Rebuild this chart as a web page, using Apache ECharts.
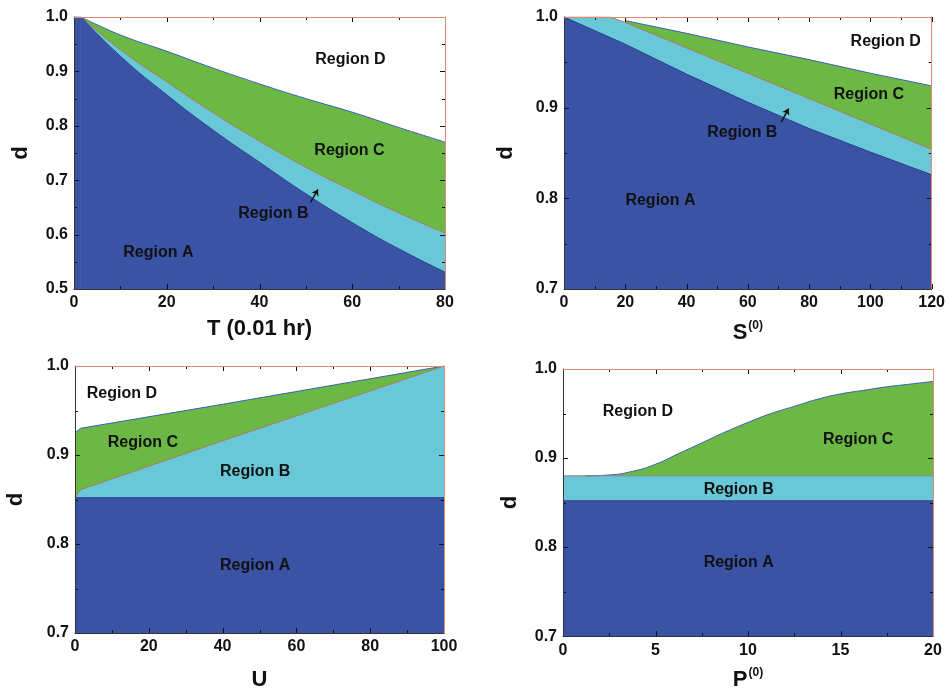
<!DOCTYPE html>
<html>
<head>
<meta charset="utf-8">
<script src="https://cdn.jsdelivr.net/npm/echarts@6/dist/echarts.min.js"></script>
<style>html,body{margin:0;padding:0;background:#fff}#c{width:948px;height:692px}</style>
</head>
<body>
<div id="c"></div>
<script>
// ---------- Panel 1 : T (0.01 hr) ----------
const p1CD_x = [1.5, 10, 20, 30, 40, 50, 60, 70, 80];
const p1CD_y = [1.0, 0.967, 0.937, 0.906, 0.877, 0.850, 0.825, 0.797, 0.770];
const p1BC_x = [1.5, 10, 20, 30, 40, 50, 60, 70, 80];
const p1BC_y = [1.0, 0.940, 0.881, 0.824, 0.772, 0.724, 0.681, 0.640, 0.603];
const p1AB_x = [0, 1.5, 10, 20, 30, 40, 50, 60, 70, 80];
const p1AB_y = [1.0, 1.0, 0.928, 0.857, 0.792, 0.733, 0.675, 0.622, 0.574, 0.531];
const p1Labels = [["Region D", 59.6, 0.921], ["Region C", 59.4, 0.755], ["Region B", 43, 0.639], ["Region A", 18.2, 0.567]];
const p1Arrow = [[51.0, 0.659], [52.6, 0.683]];

// ---------- Panel 2 : S(0) ----------
const p2CD_x = [20, 40, 60, 80, 100, 120];
const p2CD_y = [0.996, 0.982, 0.967, 0.953, 0.938, 0.924];
const p2BC_x = [0, 15, 20, 40, 60, 80, 100, 120];
const p2BC_y = [1.0, 1.0, 0.994, 0.966, 0.938, 0.910, 0.882, 0.854];
const p2AB_x = [0, 20, 40, 60, 80, 100, 120];
const p2AB_y = [1.0, 0.970, 0.937, 0.906, 0.877, 0.851, 0.826];
const p2Labels = [["Region D", 105, 0.973], ["Region C", 99.5, 0.914], ["Region B", 58.2, 0.873], ["Region A", 31.5, 0.798]];
const p2Arrow = [[70.9, 0.884], [73.3, 0.899]];

// ---------- Panel 3 : U ----------
const p3CD_x = [0, 1.5, 40, 100];
const p3CD_y = [0.925, 0.930, 0.957, 1.0];
const p3BC_x = [0, 1.5, 40, 100];
const p3BC_y = [0.853, 0.861, 0.916, 1.0];
const p3AB_x = [0, 100];
const p3AB_y = [0.852, 0.852];
const p3Labels = [["Region D", 12.7, 0.969], ["Region C", 18.4, 0.914], ["Region B", 48.8, 0.881], ["Region A", 48.8, 0.776]];

// ---------- Panel 4 : P(0) ----------
const p4CD_x = [1.2, 2.5, 3.75, 5, 6.25, 7.5, 8.75, 10, 11.25, 12.5, 13.75, 15, 16.25, 17.5, 18.75, 20];
const p4CD_y = [0.880, 0.881, 0.885, 0.893, 0.905, 0.917, 0.929, 0.940, 0.950, 0.958, 0.966, 0.972, 0.976, 0.980, 0.983, 0.986];
const p4BC_x = [0, 20];
const p4BC_y = [0.880, 0.880];
const p4AB_x = [0, 20];
const p4AB_y = [0.852, 0.852];
const p4Labels = [["Region D", 4.05, 0.952], ["Region C", 15.95, 0.921], ["Region B", 9.5, 0.865], ["Region A", 9.5, 0.782]];

// axis ranges [min, max, major interval]
const xRanges = [[0, 80, 20], [0, 120, 20], [0, 100, 20], [0, 20, 5]];
const yRanges = [[0.5, 1.0, 0.1], [0.7, 1.0, 0.1], [0.7, 1.0, 0.1], [0.7, 1.0, 0.1]];

// ---------- styling ----------
const FONT = 'Liberation Sans, Arial, sans-serif';
const C_GREEN = '#6bb944', C_LBLUE = '#68c8d8', C_DBLUE = '#3a53a4';
const L_CD = '#3a5fb8', L_BC = '#b07a55', L_AB = '#2c3f8e';
const FRAME = '#d98a72';

const grids = [
  {left: 74, top: 17, width: 371, height: 272},
  {left: 564, top: 17, width: 369, height: 272},
  {left: 75, top: 366, width: 369, height: 272},
  {left: 563, top: 369, width: 370, height: 271}
];

const nameStyle = {fontFamily: FONT, fontWeight: 'bold', fontSize: 22, color: '#111'};
const supRich = {
  a: {fontFamily: FONT, fontWeight: 'bold', fontSize: 22, color: '#111', lineHeight: 24, padding: [10, 0, 0, 0], verticalAlign: 'bottom'},
  b: {fontFamily: FONT, fontWeight: 'bold', fontSize: 12, color: '#111', verticalAlign: 'top', padding: [0, 0, 0, 1]}
};
const xNames = [
  {name: 'T (0.01 hr)', gap: 29, style: nameStyle},
  {name: '{a|S}{b|(0)}', gap: 22, style: {rich: supRich}},
  {name: 'U', gap: 36, style: nameStyle},
  {name: '{a|P}{b|(0)}', gap: 23, style: {rich: supRich}}
];
const yGaps = [42, 47, 48, 42];

const xAxes = [], yAxes = [];
for (let i = 0; i < 4; i++) {
  const common = (r) => ({
    type: 'value', gridIndex: i, min: r[0], max: r[1], interval: r[2], z: 10,
    splitLine: {show: false}, axisTick: {show: false}, minorTick: {show: false}
  });
  xAxes.push(Object.assign(common(xRanges[i]), {
    position: 'bottom',
    axisLine: {show: true, onZero: false, lineStyle: {color: '#333', width: 1}},
    axisLabel: {show: true, margin: 6, fontFamily: FONT, fontWeight: 'bold', fontSize: 16, color: '#111',
      formatter: (v) => String(Math.round(v))},
    name: xNames[i].name, nameLocation: 'middle', nameGap: xNames[i].gap, nameTextStyle: xNames[i].style
  }));
  xAxes.push(Object.assign(common(xRanges[i]), {
    position: 'top',
    axisLine: {show: true, onZero: false, lineStyle: {color: FRAME, width: 1}},
    axisLabel: {show: false}
  }));
  yAxes.push(Object.assign(common(yRanges[i]), {
    position: 'left',
    axisLine: {show: true, onZero: false, lineStyle: {color: '#333', width: 1}},
    axisLabel: {show: true, margin: 6, fontFamily: FONT, fontWeight: 'bold', fontSize: 16, color: '#111',
      formatter: (v) => v.toFixed(1)},
    name: 'd', nameLocation: 'middle', nameGap: yGaps[i], nameTextStyle: nameStyle
  }));
  yAxes.push(Object.assign(common(yRanges[i]), {
    position: 'right',
    axisLine: {show: true, onZero: false, lineStyle: {color: FRAME, width: 1}},
    axisLabel: {show: false}
  }));
}

const zip = (xs, ys) => xs.map((x, k) => [x, ys[k]]);
function area(i, data, fill, line, smooth) {
  return {
    type: 'line', xAxisIndex: 2 * i, yAxisIndex: 2 * i, data: data,
    smooth: smooth ? 0.5 : false, symbol: 'none', silent: true,
    lineStyle: {color: line, width: 1},
    areaStyle: {color: fill, opacity: 1, origin: 'start'}, z: 2
  };
}
function labels(i, arr) {
  return {
    type: 'scatter', xAxisIndex: 2 * i, yAxisIndex: 2 * i, symbolSize: 1, silent: true,
    itemStyle: {color: 'rgba(0,0,0,0)', opacity: 1}, z: 5,
    data: arr.map(a => ({name: a[0], value: [a[1], a[2]]})),
    label: {show: true, position: 'inside', formatter: '{b}', fontFamily: FONT, fontWeight: 'bold', fontSize: 16,
      color: '#111', opacity: 1, textBorderWidth: 0}
  };
}
function arrow(i, pts) {
  return {
    type: 'lines', coordinateSystem: 'cartesian2d', xAxisIndex: 2 * i, yAxisIndex: 2 * i, silent: true, z: 6,
    symbol: ['none', 'arrow'], symbolSize: 6,
    lineStyle: {color: '#111', width: 1.5, opacity: 1},
    data: [{coords: pts}]
  };
}
// inward ticks on all four sides, placed through the axes' own scale
function ticks(i) {
  const xr = xRanges[i], yr = yRanges[i];
  const items = [];
  const nx = Math.round((xr[1] - xr[0]) / (xr[2] / 2));
  for (let k = 0; k <= nx; k++) items.push([0, xr[0] + k * xr[2] / 2, k % 2 === 0 ? 5 : 3]);
  const ny = Math.round((yr[1] - yr[0]) / (yr[2] / 2));
  for (let k = 0; k <= ny; k++) items.push([1, yr[0] + k * yr[2] / 2, k % 2 === 0 ? 5 : 3]);
  return {
    type: 'custom', xAxisIndex: 2 * i, yAxisIndex: 2 * i, silent: true, z: 8, clip: false,
    encode: {x: -1, y: -1},
    data: items,
    renderItem: function (params, api) {
      const t = api.value(0), v = api.value(1), len = api.value(2);
      const st = {stroke: '#111', lineWidth: 1};
      let a, b;
      if (t === 0) {
        a = api.coord([v, yr[0]]); b = api.coord([v, yr[1]]);
        const x = Math.round(a[0]) + 0.5;
        return {type: 'group', children: [
          {type: 'line', shape: {x1: x, y1: a[1], x2: x, y2: a[1] - len}, style: st},
          {type: 'line', shape: {x1: x, y1: b[1], x2: x, y2: b[1] + len}, style: st}
        ]};
      } else {
        a = api.coord([xr[0], v]); b = api.coord([xr[1], v]);
        const y = Math.round(a[1]) + 0.5;
        return {type: 'group', children: [
          {type: 'line', shape: {x1: a[0], y1: y, x2: a[0] + len, y2: y}, style: st},
          {type: 'line', shape: {x1: b[0], y1: y, x2: b[0] - len, y2: y}, style: st}
        ]};
      }
    }
  };
}

const p1AB = zip(p1AB_x, p1AB_y);
const series = [
  area(0, zip(p1CD_x, p1CD_y), C_GREEN, L_CD, true),
  area(0, zip(p1BC_x, p1BC_y), C_LBLUE, L_BC, true),
  area(0, p1AB.slice(0, 2), C_DBLUE, L_AB, false),
  area(0, p1AB.slice(1), C_DBLUE, L_AB, true),
  labels(0, p1Labels), arrow(0, p1Arrow), ticks(0),
  area(1, zip(p2CD_x, p2CD_y), C_GREEN, L_CD, false),
  area(1, zip(p2BC_x, p2BC_y), C_LBLUE, L_BC, false),
  area(1, zip(p2AB_x, p2AB_y), C_DBLUE, L_AB, false),
  labels(1, p2Labels), arrow(1, p2Arrow), ticks(1),
  area(2, zip(p3CD_x, p3CD_y), C_GREEN, L_CD, false),
  area(2, zip(p3BC_x, p3BC_y), C_LBLUE, L_BC, false),
  area(2, zip(p3AB_x, p3AB_y), C_DBLUE, L_AB, false),
  labels(2, p3Labels), ticks(2),
  area(3, zip(p4CD_x, p4CD_y), C_GREEN, L_CD, true),
  area(3, zip(p4BC_x, p4BC_y), C_LBLUE, '#8a8a80', false),
  area(3, zip(p4AB_x, p4AB_y), C_DBLUE, L_AB, false),
  labels(3, p4Labels), ticks(3)
];

const chart = echarts.init(document.getElementById('c'), null, {renderer: 'canvas'});
chart.setOption({
  backgroundColor: '#fff',
  animation: false,
  grid: grids,
  xAxis: xAxes,
  yAxis: yAxes,
  series: series
});
</script>
</body>
</html>
